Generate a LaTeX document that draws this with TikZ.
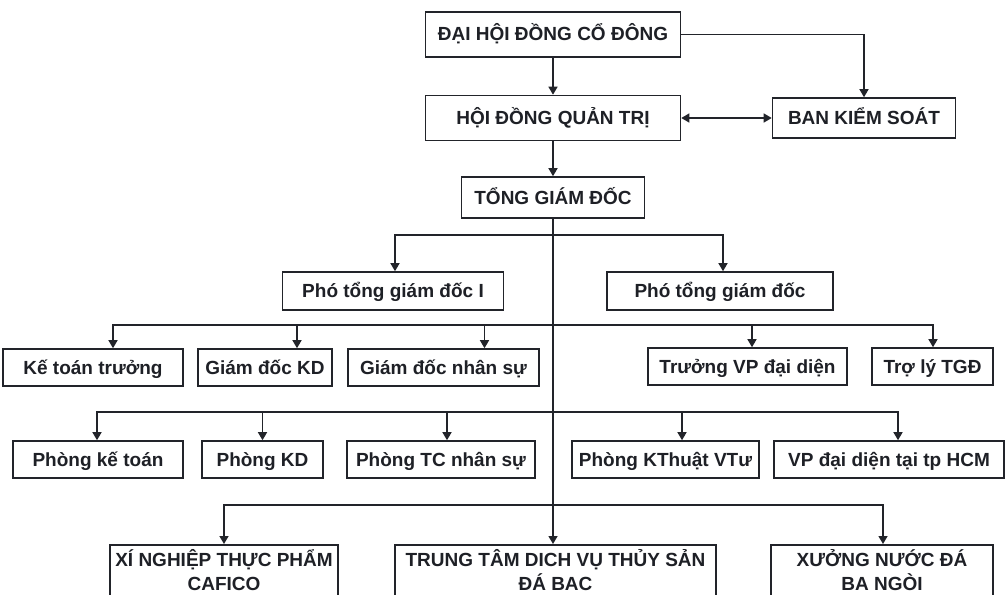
\documentclass[tikz,border=0pt]{standalone}
\usepackage{fontspec}
\setmainfont{Liberation Sans}
\usetikzlibrary{arrows.meta,calc}
\definecolor{linec}{RGB}{34,36,42}
\definecolor{txtc}{RGB}{30,32,38}
\tikzset{
  box/.style={draw=linec, line width=1.6pt, inner sep=0pt, text=txtc,
    text height=17pt, text depth=4pt,
    font=\fontsize{19}{20}\selectfont\bfseries},
  bigtext/.style={inner sep=0pt, align=center, text=txtc,
    font=\fontsize{19}{24}\selectfont\bfseries},
  conn/.style={draw=linec, line width=1.4pt},
  arr/.style={conn, -{Triangle[length=8pt,width=9pt]}},
  darr/.style={conn, {Triangle[length=8pt,width=9pt]}-{Triangle[length=8pt,width=9pt]}}
}
\begin{document}
\begin{tikzpicture}[x=1pt,y=-1pt]
\useasboundingbox (0,0) rectangle (1008,594);
\clip (0,0) rectangle (1008,594);
\fill[white] (0,0) rectangle (1008,594);
% top levels
\node[box, minimum width=255, minimum height=45] (dh) at (553,34.5) {ĐẠI HỘI ĐỒNG CỔ ĐÔNG};
\node[box, minimum width=255, minimum height=45] (hd) at (553,118) {HỘI ĐỒNG QUẢN TRỊ};
\node[box, minimum width=183, minimum height=40] (bks) at (864,118) {BAN KIỂM SOÁT};
\node[box, minimum width=183, minimum height=41] (tgd) at (553,197.5) {TỔNG GIÁM ĐỐC};
% deputies
\node[box, minimum width=221, minimum height=38] (p1) at (393,291) {Phó tổng giám đốc I};
\node[box, minimum width=226, minimum height=38] (p2) at (720,291) {Phó tổng giám đốc};
% row 3
\node[box, minimum width=180, minimum height=37] (ktt) at (93,367.5) {Kế toán trưởng};
\node[box, minimum width=134, minimum height=37] (gdkd) at (265,367.5) {Giám đốc KD};
\node[box, minimum width=191, minimum height=37] (gdns) at (443.5,367.5) {Giám đốc nhân sự};
\node[box, minimum width=199, minimum height=37] (tvp) at (747.5,366.5) {Trưởng VP đại diện};
\node[box, minimum width=121, minimum height=37] (tl) at (932.5,366.5) {Trợ lý TGĐ};
% row 4
\node[box, minimum width=170, minimum height=37] (pkt) at (98,459.5) {Phòng kế toán};
\node[box, minimum width=121, minimum height=37] (pkd) at (262.5,459.5) {Phòng KD};
\node[box, minimum width=188, minimum height=37] (ptc) at (441,459.5) {Phòng TC nhân sự};
\node[box, minimum width=187, minimum height=37] (pkth) at (665.5,459.5) {Phòng KThuật VTư};
\node[box, minimum width=230, minimum height=37] (vp) at (889,459.5) {VP đại diện tại tp HCM};
% row 5
\node[box, minimum width=228, minimum height=80, anchor=north] (xn) at (224,544) {};
\node[box, minimum width=321, minimum height=80, anchor=north] (tt) at (555.5,544) {};
\node[box, minimum width=222, minimum height=80, anchor=north] (xu) at (882,544) {};
\node[bigtext, anchor=north] (xnt) at ([yshift=-5pt]xn.north) {XÍ NGHIỆP THỰC PHẨM\\CAFICO};
\node[bigtext, anchor=north] (ttt) at ([yshift=-5pt]tt.north) {TRUNG TÂM DICH VỤ THỦY SẢN\\ĐÁ BAC};
\node[bigtext, anchor=north] (xut) at ([yshift=-5pt]xu.north) {XƯỞNG NƯỚC ĐÁ\\BA NGÒI};
% junctions
\coordinate (j1) at (553,235);
\coordinate (j2) at (553,325);
\coordinate (j3) at (553,412);
\coordinate (j4) at (553,505);
% connectors
\draw[arr] (dh) -- (hd);
\draw[arr] (dh.east) -| (bks.north);
\draw[darr] (hd.east) -- (bks.west);
\draw[arr] (hd) -- (tgd);
\draw[arr] (tgd.south) -- (tgd.south |- tt.north);
\draw[arr] (j1) -| ([xshift=2pt]p1.north);
\draw[arr] (j1) -| ([xshift=3pt]p2.north);
\draw[arr] (j2) -| ([xshift=20pt]ktt.north);
\draw[arr] (j2) -| ([xshift=32pt]gdkd.north);
\draw[arr] (j2) -| ([xshift=41pt]gdns.north);
\draw[arr] (j2) -| ([xshift=4.5pt]tvp.north);
\draw[arr] (j2) -| ([xshift=0.5pt]tl.north);
\draw[arr] (j3) -| ([xshift=-1pt]pkt.north);
\draw[arr] (j3) -| (pkd.north);
\draw[arr] (j3) -| ([xshift=6pt]ptc.north);
\draw[arr] (j3) -| ([xshift=16.5pt]pkth.north);
\draw[arr] (j3) -| ([xshift=9pt]vp.north);
\draw[arr] (j4) -| (xn.north);
\draw[arr] (j4) -| ([xshift=1pt]xu.north);
\end{tikzpicture}
\end{document}
